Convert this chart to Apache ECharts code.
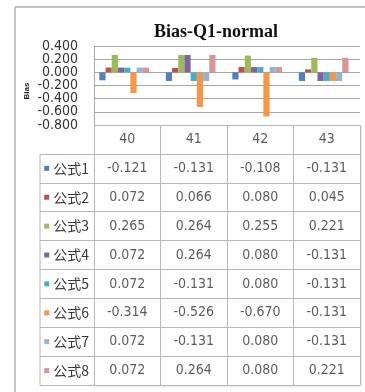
<!DOCTYPE html>
<html><head><meta charset="utf-8">
<script src="https://cdn.jsdelivr.net/npm/echarts@6/dist/echarts.min.js"></script>
<style>html,body{margin:0;padding:0;background:#fff}#c{width:365px;height:392px}</style>
</head><body><div id="c"></div>
<script>
var categories = ['40', '41', '42', '43'];
var seriesNames = ['公式1', '公式2', '公式3', '公式4', '公式5', '公式6', '公式7', '公式8'];
var f1 = [-0.121, -0.131, -0.108, -0.131];
var f2 = [0.072, 0.066, 0.080, 0.045];
var f3 = [0.265, 0.264, 0.255, 0.221];
var f4 = [0.072, 0.264, 0.080, -0.131];
var f5 = [0.072, -0.131, 0.080, -0.131];
var f6 = [-0.314, -0.526, -0.670, -0.131];
var f7 = [0.072, -0.131, 0.080, -0.131];
var f8 = [0.072, 0.264, 0.080, 0.221];
var yMin = -0.8, yMax = 0.4, yStep = 0.2;
var yTitle = 'Bias';
var colors = ['#4F81BD', '#C0504D', '#9BBB59', '#8064A2', '#4BACC6', '#F79646', '#95B3D7', '#D99694'];
var allValues = [f1, f2, f3, f4, f5, f6, f7, f8];

var narrow = "'DejaVu Sans Condensed', 'Liberation Sans', sans-serif";
var rowCats = [''].concat(seriesNames);
var cellData = [];
categories.forEach(function (c, i) { cellData.push([i, 0, c]); });
allValues.forEach(function (arr, r) {
  arr.forEach(function (v, i) { cellData.push([i, r + 1, v.toFixed(3)]); });
});

var rich = { t: { fontFamily: 'Noto Sans CJK SC', fontSize: 14, color: '#3a3a3a', padding: [0, 0, 0, 4] } };
colors.forEach(function (c, i) { rich['s' + (i + 1)] = { width: 5, height: 5, backgroundColor: c }; });

var chart = echarts.init(document.getElementById('c'), null, { renderer: 'canvas' });
var lineGray = '#a8a8a8', tableGray = '#b8b8b8';
// labels split over two overlaid value axes so the tightly packed ticks are all shown
function yLabelAxis(parity, extra) {
  var ax = { type: 'value', gridIndex: 0, min: yMin, max: yMax, interval: yStep, position: 'left',
    axisLine: { show: false }, axisTick: { show: false }, splitLine: { show: false },
    axisLabel: { margin: 16, fontFamily: narrow, fontSize: 14, color: '#333', lineHeight: 12,
      showMinLabel: true, showMaxLabel: true,
      formatter: function (v) {
        var k = Math.round((yMax - v) / yStep);
        return (k % 2 === parity) ? v.toFixed(3) : '';
      } } };
  for (var key in extra) ax[key] = extra[key];
  return ax;
}
var baseGraphic = [
  { type: 'line', shape: { x1: 15, y1: 7, x2: 15, y2: 392 }, style: { stroke: '#c4c4c4', lineWidth: 2 } },
  { type: 'line', shape: { x1: 15, y1: 7, x2: 365, y2: 7 }, style: { stroke: '#c4c4c4', lineWidth: 2 } },
  { type: 'text', x: 27, y: 91, rotation: Math.PI / 2,
    style: { text: yTitle, fontFamily: 'Liberation Sans', fontWeight: 'bold', fontSize: 8, fill: '#222',
      textAlign: 'center', textVerticalAlign: 'middle' } }
];
var option = {
  animation: false,
  backgroundColor: '#fff',
  title: {
    text: 'Bias-Q1-normal', left: 149, top: 18,
    textStyle: { fontFamily: 'Liberation Serif', fontWeight: 'bold', fontSize: 18, color: '#111' }
  },
  grid: [
    { left: 94, right: 5, top: 46, height: 79 },
    { left: 94, right: 5, top: 125, height: 260, show: true, backgroundColor: '#fff', borderWidth: 0,
      shadowColor: 'rgba(0,0,0,0.25)', shadowBlur: 2, shadowOffsetX: 1, shadowOffsetY: 1 }
  ],
  xAxis: [
    { type: 'category', gridIndex: 0, data: categories, axisLine: { show: false }, axisTick: { show: false }, axisLabel: { show: false } },
    { type: 'category', gridIndex: 1, data: categories, axisLine: { show: false }, axisTick: { show: false }, axisLabel: { show: false },
      splitLine: { show: true, lineStyle: { color: tableGray, width: 1 } } }
  ],
  yAxis: [
    yLabelAxis(0, {
      axisLine: { show: true, lineStyle: { color: lineGray } },
      splitLine: { show: true, lineStyle: { color: lineGray, width: 1 } } }),
    { type: 'category', gridIndex: 1, data: rowCats, inverse: true,
      axisLine: { show: true, lineStyle: { color: tableGray } },
      axisTick: { show: true, length: 54, lineStyle: { color: tableGray },
        interval: function (i) { return i !== 0; } },
      axisLabel: { margin: 5, align: 'right', rich: rich,
        formatter: function (v, i) { return i === 0 ? '' : '{s' + i + '|}{t|' + v + '}'; } },
      splitLine: { show: true, lineStyle: { color: tableGray, width: 1 } } },
    yLabelAxis(1, {})
  ],
  series: allValues.map(function (arr, i) {
    return { type: 'bar', name: seriesNames[i], xAxisIndex: 0, yAxisIndex: 0, data: arr,
      itemStyle: { color: colors[i] }, barGap: '0%', barCategoryGap: '16%' };
  }).concat([{
    type: 'scatter', xAxisIndex: 1, yAxisIndex: 1, data: cellData, symbolSize: 1,
    itemStyle: { color: 'rgba(0,0,0,0)' }, silent: true,
    label: { show: true, position: 'inside', fontFamily: narrow, fontSize: 14, color: '#333',
      formatter: function (p) { return p.data[2]; } }
  }, {
    type: 'bar', xAxisIndex: 0, yAxisIndex: 2, data: [], silent: true
  }]),
  graphic: baseGraphic
};
chart.setOption(option);
// left border of the row-label column, from the table's own scale
var pTop = chart.convertToPixel({ xAxisIndex: 1, yAxisIndex: 1 }, [0, 1]);
var pBot = chart.convertToPixel({ xAxisIndex: 1, yAxisIndex: 1 }, [0, 8]);
var half = (pBot[1] - pTop[1]) / 14;
var gx = chart.getModel().getComponent('grid', 1).coordinateSystem.getRect();
chart.setOption({ graphic: baseGraphic.concat([
  { type: 'line', shape: { x1: gx.x - 54, y1: pTop[1] - half, x2: gx.x - 54, y2: pBot[1] + half }, style: { stroke: tableGray, lineWidth: 1 } }
]) });
</script></body></html>
